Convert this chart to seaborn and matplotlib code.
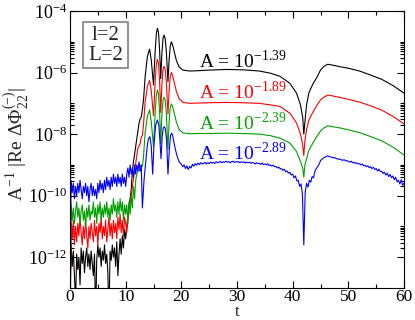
import numpy as np
import pandas as pd
import matplotlib
matplotlib.use("Agg")
import matplotlib.pyplot as plt
import seaborn as sns
from matplotlib.ticker import FixedLocator, MultipleLocator, FuncFormatter, NullFormatter
from matplotlib.patches import Rectangle

# ---------------- data (log10 of the plotted quantity) ----------------
t_early = np.round(np.arange(0, 10.001, 0.2), 2)          # 51 samples
t_blue_early = np.round(np.arange(0, 13.001, 0.2), 2)     # 66 samples
t_blue_late = np.round(np.arange(20, 60.001, 0.25), 2)    # 161 samples

black_early = [-14.0, -11.6, -12.3, -11.8, -12.6, -13.5, -11.9, -12.4, -12.0, -12.9, -11.7,
               -12.2, -11.8, -12.5, -12.0, -11.7, -12.3, -11.9, -12.4, -11.8, -12.2,
               -12.6, -11.9, -14.0, -12.1, -11.6, -12.0, -11.7, -12.3, -11.8, -12.1,
               -11.6, -12.2, -11.9, -12.5, -14.0, -11.8, -12.1, -11.6, -12.0, -11.7,
               -12.3, -11.5, -12.6, -11.9, -11.4, -11.9, -11.3, -11.7, -11.1, -11.4]
red_early = [-14.0, -10.9, -11.4, -10.8, -11.6, -11.0, -11.5, -10.9, -11.3, -10.7, -11.2,
             -11.6, -11.0, -11.4, -10.8, -11.3, -11.7, -11.0, -11.4, -10.9, -11.2,
             -11.5, -10.8, -11.3, -11.0, -11.6, -10.9, -11.2, -10.7, -11.4, -11.0,
             -11.3, -10.8, -11.5, -11.1, -10.7, -11.3, -10.9, -11.4, -10.8, -11.2,
             -10.9, -11.4, -10.7, -11.1, -10.6, -11.2, -10.8, -11.3, -10.7, -10.9]
green_early = [-14.0, -10.3, -10.8, -10.4, -10.9, -10.5, -10.2, -10.7, -10.4, -10.9, -10.5,
               -10.3, -10.8, -10.5, -11.0, -10.4, -10.7, -10.3, -10.8, -10.5, -10.6,
               -10.2, -10.7, -10.4, -10.9, -10.3, -10.6, -10.2, -10.8, -10.4, -10.7,
               -10.3, -10.6, -10.2, -10.7, -10.4, -10.8, -10.3, -10.6, -10.1, -10.5,
               -10.3, -10.7, -10.2, -10.6, -10.1, -10.5, -10.2, -10.8, -10.3, -10.6]

t_mid = [10.2, 10.4, 10.6, 10.8, 11.0, 11.2, 11.4, 11.6, 11.8, 12.0,
         12.2, 12.4, 12.6, 12.8, 13.0, 13.2, 13.5, 13.9, 14.3, 14.6,
         15.0, 15.3, 15.5, 15.7, 15.9, 16.1, 16.3, 16.5, 16.7, 16.9,
         17.1, 17.3, 17.6, 17.8, 18.0, 18.2, 18.4, 18.7, 19.1, 19.6,
         20.3, 21.5, 23, 25, 28, 31, 34, 36, 37.7, 39.5,
         40.7, 41.4, 41.8, 42.0, 42.2, 42.5, 42.9, 43.3, 43.7, 44.4,
         45.0, 45.6, 46.3, 47.2, 48.5, 50, 52, 54, 56, 58, 60]
black_mid = [-11.0, -10.6, -10.3, -10.1, -9.8, -9.2, -8.9, -8.65, -8.4, -8.15,
             -7.9, -7.65, -7.5, -7.45, -7.2, -6.9, -6.13, -5.48, -5.24, -5.6,
             -6.4, -5.3, -4.75, -4.56, -4.7, -5.3, -6.2, -5.4, -4.9, -4.78,
             -4.9, -5.3, -6.3, -5.6, -5.15, -5.0, -5.08, -5.3, -5.6, -5.82,
             -5.92, -5.95, -5.94, -5.92, -5.9, -5.91, -5.95, -6.02, -6.12, -6.35,
             -6.67, -7.05, -7.45, -8.0, -7.6, -7.05, -6.67, -6.5, -6.35, -6.14,
             -5.92, -5.8, -5.73, -5.76, -5.81, -5.86, -5.95, -6.08, -6.22, -6.42, -6.67]
red_mid = [-11.2, -10.8, -10.5, -10.2, -10.0, -9.7, -9.45, -9.2, -8.95, -8.7,
           -8.45, -8.4, -8.3, -8.1, -8.05, -7.7, -6.95, -6.45, -6.26, -6.6,
           -7.4, -6.3, -5.75, -5.57, -5.7, -6.3, -7.3, -6.4, -5.9, -5.8,
           -5.9, -6.3, -7.35, -6.6, -6.15, -6.0, -6.07, -6.3, -6.6, -6.85,
           -6.97, -7.0, -6.99, -6.98, -6.97, -6.98, -7.0, -7.05, -7.1, -7.32,
           -7.64, -8.0, -8.35, -8.7, -8.2, -7.85, -7.55, -7.4, -7.27, -7.05,
           -6.89, -6.8, -6.73, -6.76, -6.81, -6.87, -6.96, -7.08, -7.22, -7.42, -7.67]
green_mid = [-10.3, -10.9, -10.2, -10.6, -10.0, -10.4, -9.7, -10.1, -9.5, -9.3,
             -9.2, -9.15, -9.2, -9.0, -9.05, -8.75, -7.95, -7.42, -7.21, -7.6,
             -8.4, -7.3, -6.75, -6.56, -6.7, -7.3, -8.3, -7.4, -6.9, -6.8,
             -6.9, -7.3, -8.5, -7.6, -7.15, -7.02, -7.08, -7.3, -7.6, -7.85,
             -7.96, -7.99, -7.98, -7.98, -7.97, -7.98, -8.0, -8.05, -8.13, -8.29,
             -8.57, -8.89, -9.1, -9.4, -9.0, -8.8, -8.53, -8.4, -8.27, -8.06,
             -7.9, -7.8, -7.73, -7.76, -7.8, -7.86, -7.95, -8.08, -8.22, -8.42, -8.68]

blue_early = [-14.0,
              -9.5, -9.9, -9.6, -10.1, -9.7, -10.0, -9.6, -9.9, -9.5, -9.8,
              -10.1, -9.7, -9.9, -9.6, -10.0, -9.7, -10.2, -9.8, -9.6, -10.0,
              -9.7, -10.0, -9.8, -10.1, -9.6, -9.9, -9.5, -9.8, -9.6, -9.9,
              -9.5, -9.8, -9.4, -9.7, -9.5, -9.8, -9.4, -9.7, -9.3, -9.6,
              -9.4, -9.7, -9.3, -9.6, -9.4, -9.7, -9.3, -9.6, -9.4, -9.7,
              -9.3, -9.1, -9.4, -9.0, -9.3, -9.1, -9.4, -9.0, -9.3, -9.0,
              -9.2, -8.9, -9.2, -9.0, -10.4]
t_blue_mid = [13.3, 13.6, 13.9, 14.1, 14.35, 14.6, 14.85, 15.1, 15.4, 15.7,
              15.95, 16.15, 16.35, 16.55, 16.75, 16.95, 17.15, 17.35, 17.6, 17.85,
              18.05, 18.25, 18.45, 18.7, 19.0, 19.3, 19.6, 19.85]
blue_mid = [-9.5, -8.9, -8.35, -8.15, -8.08, -8.4, -9.3, -8.3, -7.7, -7.54,
            -7.7, -8.2, -8.8, -8.1, -7.8, -7.76, -7.85, -8.2, -9.3, -8.5,
            -8.05, -7.97, -8.05, -8.3, -8.55, -8.75, -8.9, -8.95]
blue_late = [-8.98, -9.06, -9.00, -9.12, -9.03, -9.15, -9.05, -9.10,
             -8.98, -9.04, -8.96, -9.01, -8.94, -8.99, -8.93, -8.97,
             -8.95, -8.92, -8.97, -8.93, -8.96, -8.91, -8.94, -8.92,
             -8.95, -8.90, -8.93, -8.91, -8.89, -8.93, -8.90, -8.92,
             -8.88, -8.91, -8.89, -8.93, -8.90, -8.88, -8.92, -8.89,
             -8.91, -8.89, -8.93, -8.90, -8.92, -8.90, -8.94, -8.91,
             -8.93, -8.91, -8.95, -8.92, -8.94, -8.97, -8.93, -8.96,
             -8.95, -8.98, -8.94, -8.99, -8.97, -9.00, -8.96, -9.02,
             -9.00, -9.04, -9.01, -9.06, -9.05, -9.10, -9.07, -9.13,
             -9.12, -9.18, -9.14, -9.22, -9.20, -9.27, -9.24, -9.33,
             -9.30, -9.42, -9.36, -9.52, -9.50, -9.70, -9.62, -9.95,
             -11.6, -9.90, -9.60, -9.72, -9.50, -9.56, -9.38, -9.42,
             -9.20, -9.12, -9.05, -8.98, -8.86, -8.82, -8.78, -8.75,
             -8.73, -8.71, -8.72, -8.74, -8.75, -8.77, -8.76, -8.79,
             -8.80, -8.82, -8.81, -8.84, -8.85, -8.83, -8.87, -8.86,
             -8.89, -8.91, -8.88, -8.93, -8.92, -8.95, -8.93, -8.97,
             -8.96, -9.00, -8.97, -9.03, -9.01, -9.06, -9.03, -9.09,
             -9.06, -9.12, -9.08, -9.15, -9.12, -9.20, -9.14, -9.22,
             -9.21, -9.28, -9.24, -9.33, -9.27, -9.38, -9.31, -9.42,
             -9.36, -9.48, -9.40, -9.55, -9.50, -9.62, -9.48, -9.66,
             -9.60]

curve_names = ["A=10^-1.39", "A=10^-1.89", "A=10^-2.39", "A=10^-2.89"]
exponents = ["-1.39", "-1.89", "-2.39", "-2.89"]
colors = ["#000000", "#ff0000", "#00a000", "#0000ff"]

# ---------------- assemble ----------------
frames = []
for name, tt, vv in [
    (curve_names[0], list(t_early) + t_mid, black_early + black_mid),
    (curve_names[1], list(t_early) + t_mid, red_early + red_mid),
    (curve_names[2], list(t_early) + t_mid, green_early + green_mid),
    (curve_names[3], list(t_blue_early) + t_blue_mid + list(t_blue_late),
     blue_early + blue_mid + blue_late),
]:
    frames.append(pd.DataFrame({"t": tt, "v": 10.0 ** np.array(vv), "curve": name}))
df = pd.concat(frames, ignore_index=True)

# ---------------- style ----------------
sns.set_style("ticks")
plt.rcParams["font.family"] = ["Liberation Serif", "DejaVu Serif"]
plt.rcParams["mathtext.fontset"] = "stix"
plt.rcParams["axes.unicode_minus"] = False

fig = plt.figure(figsize=(4.15, 3.2), dpi=100)
ax = fig.add_axes([70 / 415, 1 - 288 / 320, 334 / 415, 277 / 320])

sns.lineplot(data=df, x="t", y="v", hue="curve", hue_order=curve_names,
             palette=colors, estimator=None, sort=False, lw=0.8,
             legend=False, ax=ax)

ax.set_yscale("log")
ax.set_xlim(0, 60)
ax.set_ylim(1e-13, 1e-4)

ax.xaxis.set_major_locator(MultipleLocator(10))
ax.xaxis.set_minor_locator(MultipleLocator(5))
ax.yaxis.set_major_locator(FixedLocator([1e-12, 1e-10, 1e-8, 1e-6, 1e-4]))
ax.yaxis.set_minor_locator(FixedLocator([k * 10.0 ** e for e in (-12, -10, -8, -6) for k in range(2, 11)]))
ax.yaxis.set_major_formatter(FuncFormatter(lambda v, p: r"$\mathdefault{10^{%d}}$" % round(np.log10(v))))
ax.yaxis.set_minor_formatter(NullFormatter())

ax.tick_params(which="both", direction="in", top=True, right=True, width=0.8,
               labelsize=13, colors="black")
ax.tick_params(which="major", length=5, pad=2)
ax.tick_params(axis="x", which="major", pad=1, labelsize=12.5)
ax.tick_params(which="minor", length=3)
for s in ax.spines.values():
    s.set_color("black")
    s.set_linewidth(0.8)

ax.set_xlabel("")
ax.set_ylabel("")
fig.text(237 / 415, 1 - 316 / 320, "t", ha="center", va="baseline", fontsize=12)
fig.text(16 / 415, 1 - 144 / 320,
         r"A$^{\mathdefault{-1}}$ |Re $\mathdefault{\Delta\Phi}^{\mathdefault{(-)}}_{\mathdefault{22}}$|",
         rotation=90, ha="center", va="center", fontsize=14)

# annotations
ann_y = [-5.85, -6.86, -7.86, -8.84]
for ex, c, yy in zip(exponents, colors, ann_y):
    ax.text(23.2, 10 ** yy, "A = 10$^{\\mathdefault{%s}}$" % ex, color=c,
            fontsize=14, ha="left", va="baseline")

# box with l=2 / L=2
ax.add_patch(Rectangle((0.039, 0.794), 0.135, 0.166, transform=ax.transAxes,
                       fill=False, edgecolor="#808080", lw=1.2))
ax.text(0.1065, 0.913, "l=2", transform=ax.transAxes, ha="center", va="center", fontsize=15)
ax.text(0.1065, 0.841, "L=2", transform=ax.transAxes, ha="center", va="center", fontsize=15)

fig.savefig("out.png", dpi=100)
